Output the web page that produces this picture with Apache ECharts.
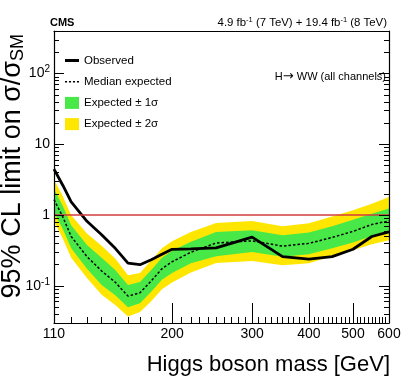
<!DOCTYPE html>
<html><head><meta charset="utf-8">
<script src="https://cdn.jsdelivr.net/npm/echarts@6/dist/echarts.min.js"></script>
<style>html,body{margin:0;padding:0;background:#fff}#c{width:407px;height:391px}</style>
</head><body><div id="c"></div>
<script>
// ---- data ----
const masses   = [110,115,120,130,140,150,160,170,180,190,200,220,250,300,350,400,450,500,550,600];
const observed = [4.47,2.65,1.54,0.82,0.53,0.34,0.21,0.20,0.235,0.28,0.33,0.335,0.345,0.49,0.26,0.24,0.26,0.33,0.50,0.58];
const expMedian= [1.66,0.95,0.50,0.26,0.163,0.113,0.072,0.080,0.118,0.175,0.22,0.30,0.405,0.434,0.365,0.40,0.485,0.59,0.74,0.83];
const expPlus1 = [2.35,1.35,0.72,0.38,0.25,0.168,0.103,0.114,0.168,0.25,0.315,0.42,0.58,0.614,0.522,0.57,0.70,0.86,1.05,1.24];
const expPlus2 = [3.2,1.85,1.0,0.55,0.37,0.245,0.142,0.153,0.23,0.34,0.43,0.58,0.778,0.831,0.70,0.77,0.955,1.17,1.45,1.81];
const expMinus1= [1.1,0.64,0.34,0.175,0.103,0.074,0.05,0.057,0.083,0.122,0.153,0.21,0.264,0.303,0.258,0.28,0.34,0.41,0.51,0.581];
const expMinus2= [0.82,0.47,0.25,0.13,0.075,0.054,0.037,0.043,0.061,0.09,0.112,0.155,0.212,0.226,0.197,0.21,0.265,0.32,0.39,0.443];
const smRef = 1;

const xLabels = [110,200,300,400,500,600];
const xMajorTicks = [200,300,400,500];
const yLabels = [0.1,1,10,100];
const yMajorTicks = [0.1,1,10,100];

const xMinorTicks = [];
for (let m = 120; m < 600; m += 10) if (xMajorTicks.indexOf(m) < 0) xMinorTicks.push(m);
const yMinorTicks = [];
[0.01,0.1,1,10,100].forEach(d => { for (let k = 2; k <= 9; k++) { const v = +(d*k).toPrecision(3); if (v >= 0.03 && v <= 400) yMinorTicks.push(v); } });

const FONT = 'Liberation Sans, Arial, Helvetica, sans-serif';
const GREEN = '#48e848', YELLOW = '#ffe600';

const chart = echarts.init(document.getElementById('c'), null, {renderer:'canvas'});

const baseX = {type:'log', logBase:10, min:110, max:600, z:5, splitLine:{show:false}, minorTick:{show:false}, minorSplitLine:{show:false}};
const baseY = {type:'log', logBase:10, min:0.03, max:400, z:5, splitLine:{show:false}, minorTick:{show:false}, minorSplitLine:{show:false}};
const blackLine = {color:'#000', width:1.2};

function band(name, upper, lower, color, z) {
  return {
    type:'custom', name, z, silent:true, xAxisIndex:0, yAxisIndex:0,
    itemStyle:{color},
    data: masses.map((m,i)=>[m, upper[i], lower[i]]),
    encode:{x:0, y:[1,2]},
    renderItem(params, api) {
      if (params.dataIndex !== 0) return null;
      const top = masses.map((m,i)=>api.coord([m, upper[i]]));
      const bot = masses.map((m,i)=>api.coord([m, lower[i]])).reverse();
      return {type:'polygon', shape:{points: top.concat(bot)}, style:{fill: color}};
    }
  };
}

function yFmt(v) {
  const e = Math.round(Math.log10(v));
  if (e === 0) return '1';
  if (e === 1) return '10';
  return '10{sup|' + (e < 0 ? '-' : '') + Math.abs(e) + '}';
}

chart.setOption({
  animation:false,
  backgroundColor:'#fff',
  textStyle:{fontFamily:FONT},
  grid:{left:54, right:18, top:31, bottom:68, containLabel:false},
  xAxis:[
    Object.assign({}, baseX, {position:'bottom',
      axisLine:{show:true, onZero:false, lineStyle:blackLine},
      axisTick:{show:true, inside:true, length:20, customValues:xMajorTicks, lineStyle:{color:'#000', width:1}},
      axisLabel:{show:true, customValues:xLabels, fontSize:14, color:'#000', margin:4, fontFamily:FONT, formatter:v=>String(Math.round(v))}}),
    Object.assign({}, baseX, {position:'bottom',
      axisLine:{show:false, onZero:false},
      axisTick:{show:true, inside:true, length:6, customValues:xMinorTicks, lineStyle:{color:'#000', width:1}},
      axisLabel:{show:false}}),
    Object.assign({}, baseX, {position:'top',
      axisLine:{show:true, onZero:false, lineStyle:blackLine},
      axisTick:{show:false}, axisLabel:{show:false}})
  ],
  yAxis:[
    Object.assign({}, baseY, {position:'left',
      axisLine:{show:true, onZero:false, lineStyle:blackLine},
      axisTick:{show:true, inside:true, length:10, customValues:yMajorTicks, lineStyle:{color:'#000', width:1}},
      axisLabel:{show:true, customValues:yLabels, fontSize:14, color:'#000', margin:4, fontFamily:FONT, formatter:yFmt,
        rich:{sup:{fontSize:10, color:'#000', fontFamily:FONT, padding:[0,0,8,0]}}}}),
    Object.assign({}, baseY, {position:'left',
      axisLine:{show:false, onZero:false},
      axisTick:{show:true, inside:true, length:5, customValues:yMinorTicks, lineStyle:{color:'#000', width:1}},
      axisLabel:{show:false}}),
    Object.assign({}, baseY, {position:'right',
      axisLine:{show:true, onZero:false, lineStyle:blackLine},
      axisTick:{show:true, inside:true, length:10, customValues:yMajorTicks, lineStyle:{color:'#000', width:1}},
      axisLabel:{show:false}}),
    Object.assign({}, baseY, {position:'right',
      axisLine:{show:false, onZero:false},
      axisTick:{show:true, inside:true, length:5, customValues:yMinorTicks, lineStyle:{color:'#000', width:1}},
      axisLabel:{show:false}})
  ],
  legend:{
    orient:'vertical', left:65, top:54.5, padding:0, itemWidth:14, itemHeight:12, itemGap:9.2,
    textStyle:{fontSize:11.5, color:'#000', fontFamily:FONT},
    selectedMode:false, symbolKeepAspect:true,
    data:[
      {name:'Observed', icon:'path://M0,0H14V3H0Z', itemStyle:{color:'#000', borderWidth:0}},
      {name:'Median expected', icon:'path://M0,0H2V1.4H0Z M3.8,0H5.8V1.4H3.8Z M7.6,0H9.6V1.4H7.6Z M11.4,0H13.4V1.4H11.4Z', itemStyle:{color:'#000', borderWidth:0}},
      {name:'Expected ± 1σ', icon:'rect'},
      {name:'Expected ± 2σ', icon:'rect'}
    ]
  },
  series:[
    band('Expected ± 2σ', expPlus2, expMinus2, YELLOW, 1),
    band('Expected ± 1σ', expPlus1, expMinus1, GREEN, 2),
    {type:'line', name:'Median expected', z:3, xAxisIndex:0, yAxisIndex:0, symbol:'none', showSymbol:false,
      data: masses.map((m,i)=>[m, expMedian[i]]),
      lineStyle:{color:'#000', width:1.5, type:[2.5,2]}, itemStyle:{color:'#000'},
      markLine:{silent:true, symbol:'none', label:{show:false}, animation:false,
        lineStyle:{color:'#d23c3c', width:1.6, type:'solid'}, data:[{yAxis:smRef}]}},
    {type:'line', name:'Observed', z:4, xAxisIndex:0, yAxisIndex:0, symbol:'none', showSymbol:false,
      data: masses.map((m,i)=>[m, observed[i]]),
      lineStyle:{color:'#000', width:2.8}, itemStyle:{color:'#000'}}
  ],
  graphic:[
    {type:'text', x:50, y:23, style:{text:'CMS', fontSize:11, fontWeight:'bold', fontFamily:FONT, fill:'#000', align:'left', verticalAlign:'middle'}},
    {type:'text', x:387, y:23, style:{text:'4.9 fb{sup|-1} (7 TeV) + 19.4 fb{sup|-1} (8 TeV)', fontSize:11.4, fontFamily:FONT, fill:'#000', align:'right', verticalAlign:'middle',
      rich:{sup:{fontSize:7.5, fontFamily:FONT, fill:'#000', padding:[0,0,6,0]}}}},
    {type:'text', x:386, y:77, style:{text:'H{arr|→} WW (all channels)', fontSize:11, fontFamily:FONT, fill:'#000', align:'right', verticalAlign:'middle',
      rich:{arr:{fontSize:13, fontFamily:'DejaVu Sans', fill:'#000'}}}},
    {type:'text', x:390, y:365, style:{text:'Higgs boson mass [GeV]', fontSize:22, fontFamily:FONT, fill:'#000', align:'right', verticalAlign:'middle'}},
    {type:'text', x:13, y:34, rotation:Math.PI/2, style:{text:'95% CL limit on σ/σ{sub|SM}', fontSize:27, fontFamily:FONT, fill:'#000', align:'right', verticalAlign:'middle',
      rich:{sub:{fontSize:18, fontFamily:FONT, fill:'#000', padding:[11,0,0,0]}}}}
  ]
});
</script>
</body></html>
